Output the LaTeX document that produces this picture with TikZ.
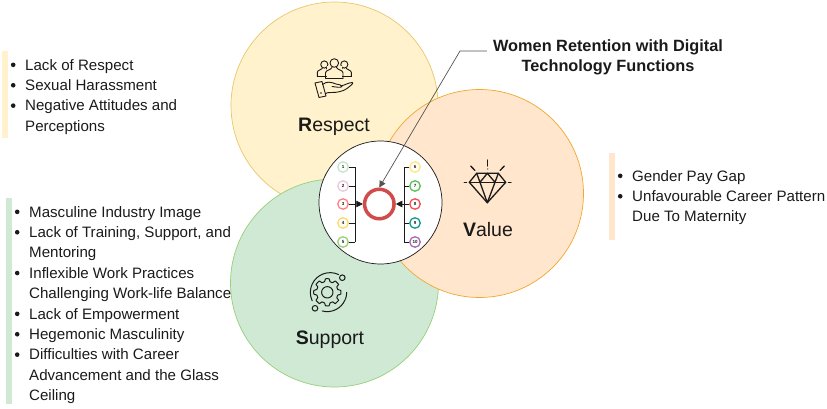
\documentclass[tikz,border=0pt]{standalone}
\usepackage{fontspec}
\setmainfont{Liberation Sans}
\usetikzlibrary{arrows.meta}
\definecolor{ry}{HTML}{FFF2CC}
\definecolor{ryd}{HTML}{E8C76A}
\definecolor{vo}{HTML}{FFE6CC}
\definecolor{vod}{HTML}{F0A830}
\definecolor{sg}{HTML}{D0E9D5}
\definecolor{sgd}{HTML}{97D077}
\definecolor{ink}{HTML}{1A1A1A}
\definecolor{hub}{HTML}{D24B4B}
\definecolor{i1}{HTML}{C5E3C9}\definecolor{i2}{HTML}{EBC8DC}\definecolor{i3}{HTML}{FF8080}
\definecolor{i4}{HTML}{FFD966}\definecolor{i5}{HTML}{97D077}\definecolor{i6}{HTML}{FFE680}
\definecolor{i7}{HTML}{55C355}\definecolor{i8}{HTML}{F05050}\definecolor{i9}{HTML}{109A8C}
\definecolor{i10}{HTML}{A868B8}
\tikzset{x=1pt,y=-1pt,
 bigc/.style={circle,draw,line width=.7pt,minimum size=#1,inner sep=0},
 item/.style={circle,draw,fill=white,line width=1.3pt,minimum size=10.5pt,inner sep=0,font=\fontsize{4.5}{5}\selectfont\bfseries,text=ink},
 lbl/.style={font=\fontsize{19.5}{22}\selectfont,text=ink},
 lst/.style={anchor=north west,align=left,font=\fontsize{15.1}{20.4}\selectfont,text=ink,inner sep=0},
 conn/.style={ink,line width=.7pt},
 icon/.style={ink,line width=.9pt,line cap=round,line join=round},
 tip/.style={-{Triangle[length=6.5pt,width=6.5pt]}}}
\newcommand{\bul}[1]{\makebox[0pt][r]{\raisebox{3pt}{\tikz\fill[ink] circle (2.3pt);}\hspace{9.7pt}}#1}
\begin{document}
\begin{tikzpicture}
\useasboundingbox (0,0) rectangle (827,409);
\node[bigc=207pt,fill=ry,draw=ryd] (R) at (334.5,105.5) {};
\node[bigc=208pt,fill=sg,draw=sgd] (S) at (334.5,283) {};
\node[bigc=208pt,fill=vo,draw=vod] (V) at (479.5,193.5) {};
\node[bigc=123pt,fill=white,draw=ink] (C) at (380.5,202.5) {};
% side bars
\fill[ry] (2,51) rectangle (8,138);
\fill[sg] (6,198) rectangle (12,404);
\fill[vo] (609,153) rectangle (615,240);
% labels
\node[lbl] (lr) at (334,126.5) {\textbf{R}espect};
\node[lbl] (lv) at (488,230) {\textbf{V}alue};
\node[lbl] (ls) at (330,339.5) {\textbf{S}upport};
% lists
\node[lst] (l1) at (25,59) {\bul{Lack of Respect}\\\bul{Sexual Harassment}\\\bul{Negative Attitudes and}\\Perceptions};
\node[lst] (l2) at (29,206) {\bul{Masculine Industry Image}\\\bul{Lack of Training, Support, and}\\Mentoring\\\bul{Inflexible Work Practices}\\Challenging Work-life Balance\\\bul{Lack of Empowerment}\\\bul{Hegemonic Masculinity}\\\bul{Difficulties with Career}\\Advancement and the Glass\\Ceiling};
\node[lst] (l3) at (632,170) {\bul{Gender Pay Gap}\\\bul{Unfavourable Career Pattern}\\Due To Maternity};
% title
\node[font=\fontsize{16.3}{20}\selectfont\bfseries,align=center,text=ink,inner sep=0] (T) at (608,57) {Women Retention with Digital\\Technology Functions};
% centre
\node[circle,draw=hub,line width=3.5pt,minimum size=29.5pt,inner sep=0] (H) at (379.3,204) {};
\foreach \n/\y in {1/167,2/186,3/204,4/223,5/242}
 \node[item,draw=i\n] (a\n) at (343,\y) {\n};
\foreach \n/\y in {6/167,7/186,8/204,9/223,10/242}
 \node[item,draw=i\n] (a\n) at (415,\y) {\n};
\coordinate (bl) at (355,204);
\coordinate (br) at (404,204);
\foreach \n in {1,2,4,5} \draw[conn] (a\n) -- (bl |- a\n);
\foreach \n in {6,7,9,10} \draw[conn] (a\n) -- (br |- a\n);
\draw[conn] (bl |- a1) -- (bl |- a5);
\draw[conn] (br |- a6) -- (br |- a10);
\draw[conn,tip] (a3) -- (H);
\draw[conn,tip] (a8) -- (H);
\coordinate (pk) at (460,51);
\draw[conn,ink!75,tip] (T.west |- pk) ++(-6,0) -- (pk) -- (H.north);
% respect icon
\begin{scope}[icon]
 \foreach \x/\y/\r in {324.3/64.5/3.6,344.3/64.5/3.6} {
  \draw (\x,\y) circle (\r);
  \draw (\x-7,76.5) -- (\x-7,72.5) .. controls (\x-7,70) and (\x-3,70) .. (\x-2,68.5);
  \draw (\x+7,76.5) -- (\x+7,72.5) .. controls (\x+7,70) and (\x+3,70) .. (\x+2,68.5);
  \draw (\x-7,76.5) -- (\x+7,76.5);
 }
 \fill[ry] (327,66) rectangle (341.5,78);
 \draw (334.3,63) circle (4.3);
 \draw (325.5,78.5) -- (325.5,73) .. controls (325.5,70) and (331,70) .. (332,67.5);
 \draw (343,78.5) -- (343,73) .. controls (343,70) and (337.5,70) .. (336.5,67.5);
 \draw (325.5,78.5) -- (343,78.5);
 % hand
 \draw (315,83) -- (322,81.5) -- (326,96) -- (319,97.5) -- cycle;
 \fill[ink] (321,93) circle (.8);
 \draw (322.5,84.5) .. controls (327,81) and (331,82) .. (336,84) .. controls (339,85) and (342,84.5) .. (342,86.5) .. controls (341,88) and (336,87) .. (332,86.5);
 \draw (341,86) .. controls (345,85) and (349,82.5) .. (352.5,82.5) .. controls (354,83.5) and (350,86) .. (347,88.5) .. controls (343,91.5) and (337,92.5) .. (332,92.5) .. controls (329,92.5) and (327,92.5) .. (325.3,93.5);
 % diamond
 \begin{scope}[line width=1.3pt]
 \draw (476.7,173.3) -- (498.3,173.3) -- (505.7,182.3) -- (487.3,202.7) -- (469.3,182.3) -- cycle;
 \draw (469.3,182.3) -- (505.7,182.3);
 \draw (476.7,173.3) -- (480,182.3) -- (487.3,173.3) -- (495,182.3) -- (498.3,173.3);
 \draw (480,182.3) -- (487.3,202.7) -- (495,182.3);
 \draw (487.7,160) -- (487.7,166);
 \fill[ink] (487.7,169) circle (.7);
 \draw (470.7,166) -- (475,170.5);
 \draw (504.3,166) -- (500,170.5);
 \draw (464.3,182.3) -- (466.5,182.3);
 \draw (508.5,182.3) -- (511,182.3);
 \end{scope}
 % gear
 \begin{scope}[line width=1pt]
 \draw (327.3,292.3) circle (5.7);
 \draw plot[smooth cycle,tension=.25] coordinates {
  (337.8,289.5)(340.8,290.5)(340.8,294.1)(337.8,295.1)(336.8,297.8)(338.6,300.2)(335.2,303.6)(332.7,301.9)(330,303)(329.1,305.8)(325.5,305.8)(324.6,303)(321.9,301.9)(319.4,303.6)(316,300.2)(317.8,297.8)(316.8,295.1)(313.8,294.1)(313.8,290.5)(316.8,289.5)(317.8,286.8)(316,284.4)(319.4,281)(321.9,282.7)(324.6,281.6)(325.5,278.8)(329.1,278.8)(330,281.6)(332.7,282.7)(335.2,281)(338.6,284.4)(336.8,286.8)};
 \draw (338.5,274.5) arc[start angle=-65,end angle=-205,radius=19.8];
 \draw (346.7,292.3) arc[start angle=0,end angle=20,radius=19.4];
 \draw (345.2,299.5) arc[start angle=22,end angle=105,radius=19.4];
 \draw (342.3,277.7) circle (2.8);
 \draw (315,308.3) circle (2.8);
 \end{scope}
\end{scope}
\end{tikzpicture}
\end{document}
